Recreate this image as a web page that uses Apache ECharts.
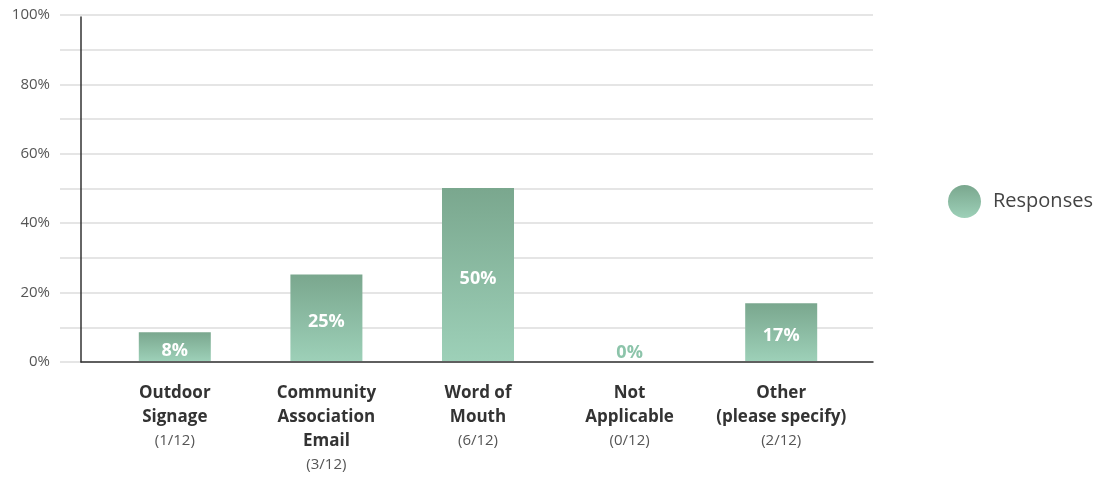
<!DOCTYPE html>
<html><head><meta charset="utf-8">
<script src="https://cdn.jsdelivr.net/npm/echarts@6/dist/echarts.min.js"></script>
<style>html,body{margin:0;padding:0;background:#fff}#c{width:1111px;height:477px}</style>
</head><body><div id="c"></div>
<script>
const categories = [
  ['Outdoor', 'Signage'],
  ['Community', 'Association', 'Email'],
  ['Word of', 'Mouth'],
  ['Not', 'Applicable'],
  ['Other', '(please specify)']
];
const counts = ['(1/12)', '(3/12)', '(6/12)', '(0/12)', '(2/12)'];
const values = [8.33, 25, 50, 0, 16.67];
const yTicks = [0, 20, 40, 60, 80, 100];
const seriesName = 'Responses';

const FONT = 'Open Sans';
const grad = new echarts.graphic.LinearGradient(0, 0, 0, 1, [
  {offset: 0, color: '#7aa78e'}, {offset: 1, color: '#9dd0b8'}
]);
const catNames = categories.map(c => c.join(' '));
const TOP = 15, BOTTOM = 115;
const chart = echarts.init(document.getElementById('c'));
chart.setOption({
  animation: false,
  legend: {
    data: [{name: seriesName, icon: 'circle'}],
    left: 943, top: 180, padding: 5, itemWidth: 33, itemHeight: 33, itemGap: 12,
    textStyle: {fontFamily: FONT, fontSize: 20, color: '#444', padding: [0, 0, 0, 7]}
  },
  grid: [
    {left: 60, right: 238, top: TOP, bottom: BOTTOM},
    {left: 81, right: 238, top: TOP + 2, bottom: BOTTOM},
    {left: 99, right: 254, top: TOP, bottom: BOTTOM}
  ],
  xAxis: [
    {gridIndex: 0, type: 'value', show: false, min: 0, max: 1},
    {gridIndex: 1, type: 'value', min: 0, max: 1, axisLine: {show: true, lineStyle: {color: '#333', width: 1.5}},
     axisTick: {show: false}, axisLabel: {show: false}, splitLine: {show: false}},
    {gridIndex: 2, type: 'category', data: catNames,
     axisLine: {show: false}, axisTick: {show: false},
     axisLabel: {
       margin: 20, interval: 0, lineHeight: 24,
       formatter: (v, i) => categories[i].map(l => '{b|' + l + '}').join('\n') + '\n{c|' + counts[i] + '}',
       rich: {
         b: {fontFamily: FONT, fontWeight: 'bold', fontSize: 17, color: '#333', lineHeight: 24},
         c: {fontFamily: FONT, fontSize: 15, color: '#555', lineHeight: 24}
       }
     }}
  ],
  yAxis: [
    {gridIndex: 0, type: 'value', min: 0, max: 100, interval: 10,
     axisLine: {show: false}, axisTick: {show: false},
     axisLabel: {margin: 10, fontFamily: FONT, fontSize: 15, color: '#555',
       formatter: v => yTicks.includes(v) ? v + '%' : ''},
     splitLine: {show: true, lineStyle: {color: '#dcdcdc', width: 1.5}}},
    {gridIndex: 1, type: 'value', min: 0, max: 1, axisLine: {show: true, lineStyle: {color: '#333', width: 1.5}},
     axisTick: {show: false}, axisLabel: {show: false}, splitLine: {show: false}},
    {gridIndex: 2, type: 'value', min: 0, max: 100, show: false}
  ],
  series: [{
    name: seriesName, type: 'bar', xAxisIndex: 2, yAxisIndex: 2,
    data: values.map(v => v === 0 ? {value: v, label: {position: 'top', color: '#8cc4aa', distance: 3}} : v),
    barWidth: 72,
    itemStyle: {color: grad},
    label: {show: true, position: 'inside', offset: [0, 4], color: '#fff',
      fontFamily: FONT, fontWeight: 'bold', fontSize: 18,
      formatter: p => Math.round(p.value) + '%'}
  }]
});
</script></body></html>
